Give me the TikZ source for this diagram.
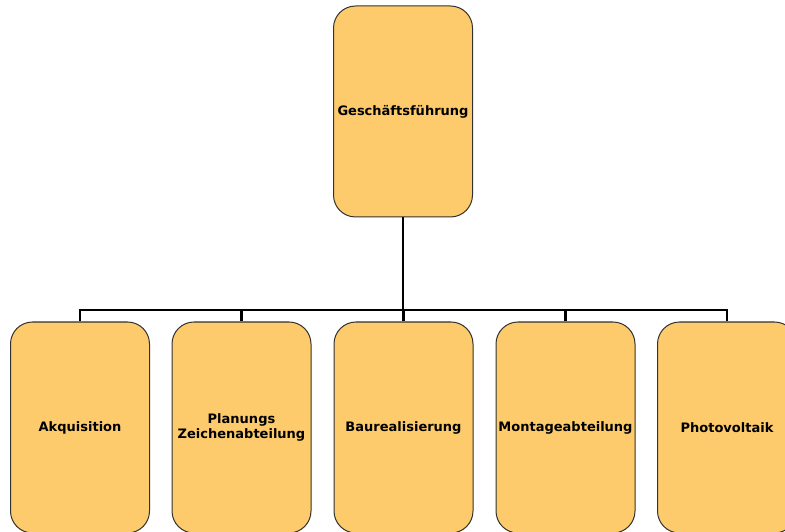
\documentclass[tikz,border=0pt]{standalone}
\usepackage{fontspec}
\setmainfont{DejaVu Sans}
\definecolor{boxfill}{RGB}{253,203,107}
\definecolor{boxline}{RGB}{50,50,50}
\begin{document}
\begin{tikzpicture}[x=1pt,y=1pt,
  orgbox/.style={draw=boxline, line width=1pt, fill=boxfill, rounded corners=22pt,
    minimum width=139pt, minimum height=211pt, inner sep=0pt, align=center,
    font=\fontsize{13}{15}\selectfont\bfseries},
  conn/.style={line width=2.8pt, black}]
\clip (0,0) rectangle (785,531);
\useasboundingbox (0,0) rectangle (785,531);
\node[orgbox] (gf) at (403,419.5) {Geschäftsführung};
\node[orgbox] (a1) at (80,103.5) {Akquisition};
\node[orgbox] (a2) at (241.5,103.5) {Planungs\\Zeichenabteilung};
\node[orgbox] (a3) at (403.5,103.5) {Baurealisierung};
\node[orgbox] (a4) at (565.5,103.5) {Montageabteilung};
\node[orgbox] (a5) at (727,103.5) {Photovoltaik};
\coordinate (bus) at (403,221);
\draw[conn] (gf.south) -- (bus);
\draw[conn] (a1.north) |- (bus);
\draw[conn] (a2.north) |- (bus);
\draw[conn] (a3.north) |- (bus);
\draw[conn] (a4.north) |- (bus);
\draw[conn] (a5.north) |- (bus);
\end{tikzpicture}
\end{document}
